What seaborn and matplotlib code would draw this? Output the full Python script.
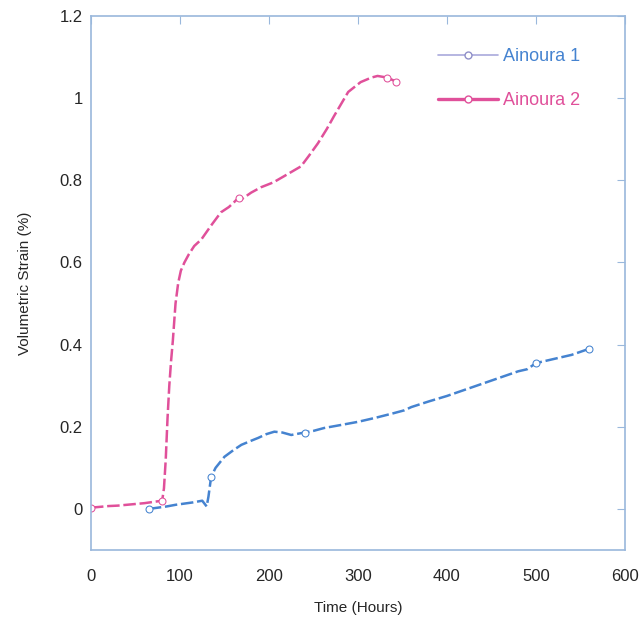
import numpy as np
import pandas as pd
import seaborn as sns
import matplotlib.pyplot as plt
from matplotlib.lines import Line2D

# Ainoura 2 (pink)
a2_time = [0, 10, 20, 30, 40, 50, 60, 70, 80, 82, 84, 86, 88, 90, 92, 95, 98, 101, 105,
           110, 116, 124, 135, 146, 155, 160, 166, 170, 180, 191, 205, 217, 236, 245, 255,
           265, 273, 289, 303, 315, 322, 333, 343]
a2_strain = [0.003, 0.005, 0.007, 0.008, 0.010, 0.012, 0.014, 0.017, 0.020, 0.05, 0.12, 0.22,
             0.30, 0.36, 0.41, 0.50, 0.55, 0.58, 0.60, 0.62, 0.64, 0.656, 0.69, 0.722, 0.735,
             0.745, 0.758, 0.755, 0.77, 0.783, 0.795, 0.81, 0.834, 0.86, 0.89, 0.925, 0.956,
             1.015, 1.039, 1.05, 1.054, 1.05, 1.04]

# Ainoura 1 (blue)
a1_time = [65, 75, 85, 95, 105, 115, 125, 130, 132, 135, 140, 150, 160, 169, 180, 188, 197,
           206, 215, 225, 240, 250, 262, 280, 300, 320, 340, 352, 360, 380, 400, 420, 440,
           460, 480, 490, 500, 520, 540, 560]
a1_strain = [0.0, 0.003, 0.006, 0.010, 0.013, 0.016, 0.020, 0.006, 0.03, 0.078, 0.10, 0.127,
             0.143, 0.156, 0.166, 0.173, 0.182, 0.188, 0.186, 0.18, 0.186, 0.19, 0.197, 0.204,
             0.212, 0.222, 0.233, 0.24, 0.248, 0.262, 0.275, 0.29, 0.305, 0.32, 0.335, 0.34,
             0.355, 0.365, 0.375, 0.39]

blue = "#4583d0"
pink = "#e0509a"
frame = "#9ab8dc"

sns.set_style("white")
plt.rcParams['font.family'] = ['Liberation Sans', 'DejaVu Sans']

fig = plt.figure(figsize=(6.42, 6.29), dpi=100)
ax = fig.add_axes([0.1417, 0.1256, 0.8318, 0.849])

df1 = pd.DataFrame({"t": a1_time, "s": a1_strain})
df2 = pd.DataFrame({"t": a2_time, "s": a2_strain})

sns.lineplot(data=df1, x="t", y="s", ax=ax, color=blue, lw=1.8,
             marker="o", markersize=5, mfc="white", mec=blue, markevery=[0, 9, 20, 36, 39])
sns.lineplot(data=df2, x="t", y="s", ax=ax, color=pink, lw=1.8,
             marker="o", markersize=5, mfc="white", mec=pink, markevery=[0, 8, 26, 41, 42])
for ln in ax.lines:
    ln.set_linestyle((0, (5, 1.5)))

ax.set_xlim(0, 600)
ax.set_ylim(-0.1, 1.2)
ax.set_xticks([0, 100, 200, 300, 400, 500, 600])
ax.set_yticks([0, 0.2, 0.4, 0.6, 0.8, 1.0, 1.2])
ax.set_yticklabels(["0", "0.2", "0.4", "0.6", "0.8", "1", "1.2"])
ax.tick_params(direction="in", top=True, right=True, length=6, color=frame,
               labelsize=12, pad=6)
ax.tick_params(axis="x", pad=14)
for sp in ax.spines.values():
    sp.set_color(frame)
    sp.set_linewidth(1.2)

ax.set_xlabel("Time (Hours)", fontsize=11, labelpad=12)
ax.set_ylabel("Volumetric Strain (%)", fontsize=11, labelpad=20)

# legend: light line for Ainoura 1, thick pink for Ainoura 2, coloured text
h = [Line2D([], [], color="#a9a9dc", lw=1.2, marker="o", ms=5, mfc="white", mec="#8f8fc8"),
     Line2D([], [], color=pink, lw=2.4, marker="o", ms=5, mfc="white", mec=pink)]
leg = ax.legend(h, ["Ainoura 1", "Ainoura 2"], loc="upper left", bbox_to_anchor=(0.62, 0.97),
                frameon=False, fontsize=13, handlelength=3.3, labelspacing=1.5,
                handletextpad=0.3)
for txt, c in zip(leg.get_texts(), [blue, pink]):
    txt.set_color(c)

fig.savefig("out.png", dpi=100)
